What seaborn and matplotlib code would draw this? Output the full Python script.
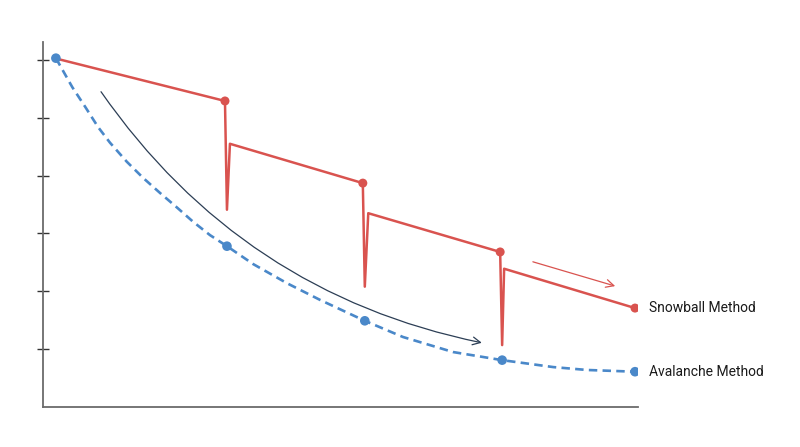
import matplotlib
matplotlib.use("Agg")
import numpy as np
import pandas as pd
import seaborn as sns
import matplotlib.pyplot as plt

# snowball: balance path incl. the payoff drops (x ~ months, y ~ balance units)
snow_x = [0.28, 3.67, 3.71, 3.77, 6.45, 6.49, 6.56, 9.22, 9.26, 9.30, 11.94]
snow_y = [6.02, 5.29, 3.41, 4.55, 3.87, 2.08, 3.35, 2.68, 1.07, 2.39, 1.71]
snow_mark_x = [3.67, 6.45, 9.22, 11.94]
snow_mark_y = [5.29, 3.87, 2.68, 1.71]

# avalanche: smooth dashed curve
aval_x = [0.26, 0.59, 0.85, 1.11, 1.35, 1.69, 2.02, 2.36, 2.70, 3.03, 3.37,
          3.71, 4.24, 4.92, 5.59, 6.49, 7.26, 8.27, 9.26, 10.29, 10.97, 11.94]
aval_y = [6.03, 5.53, 5.19, 4.84, 4.57, 4.24, 3.96, 3.70, 3.45, 3.20, 2.97,
          2.78, 2.47, 2.14, 1.85, 1.49, 1.21, 0.95, 0.81, 0.69, 0.64, 0.61]
aval_mark_x = [0.26, 3.71, 6.49, 9.26, 11.94]
aval_mark_y = [6.03, 2.78, 1.49, 0.81, 0.61]

# annotation arrows (start, end)
curve_arrow = [(1.17, 5.45), (8.85, 1.11)]
snow_arrow = [(9.88, 2.51), (11.54, 2.09)]

labels = ["Snowball Method", "Avalanche Method"]
label_y = [1.71, 0.60]

RED = "#d9534f"
BLUE = "#4a88c9"
NAVY = "#2c3e55"

sns.set_theme(style="white")
plt.rcParams["font.family"] = ["Roboto", "DejaVu Sans"]

fig = plt.figure(figsize=(8, 4.47), dpi=100)
ax = fig.add_axes([0.05375, 0.0895, 0.74375, 0.8166])

snow = pd.DataFrame({"x": snow_x, "y": snow_y})
aval = pd.DataFrame({"x": aval_x, "y": aval_y})

sns.lineplot(data=aval, x="x", y="y", ax=ax, color=BLUE, lw=1.9,
             sort=False, estimator=None)
ax.lines[-1].set_dashes((3.2, 2.0))
sns.lineplot(data=snow, x="x", y="y", ax=ax, color=RED, lw=1.8,
             sort=False, estimator=None)

sns.scatterplot(x=snow_mark_x, y=snow_mark_y, ax=ax, color=RED, s=42,
                edgecolor="none", zorder=4)
sns.scatterplot(x=aval_mark_x, y=aval_mark_y, ax=ax, color=BLUE, s=48,
                edgecolor="none", zorder=5)

ax.annotate("", xy=curve_arrow[1], xytext=curve_arrow[0],
            arrowprops=dict(arrowstyle="->", color=NAVY, lw=0.9,
                            connectionstyle="arc3,rad=0.2",
                            mutation_scale=14, shrinkA=0, shrinkB=0))
ax.annotate("", xy=snow_arrow[1], xytext=snow_arrow[0],
            arrowprops=dict(arrowstyle="->", color=RED, lw=0.9,
                            mutation_scale=14, shrinkA=0, shrinkB=0))

for txt, yy in zip(labels, label_y):
    ax.text(12.22, yy, txt, ha="left", va="center", fontsize=10,
            color="#1a1a1a", clip_on=False)

ax.set_xlim(0, 12)
ax.set_ylim(0, 6.31)
ax.set_xticks([])
ax.set_yticks([1, 2, 3, 4, 5, 6])
ax.set_yticklabels([])
ax.tick_params(axis="y", direction="inout", length=9, width=1.0,
               color="#333333", left=True)
ax.set_xlabel("")
ax.set_ylabel("")
for side in ["top", "right"]:
    ax.spines[side].set_visible(False)
for side in ["left", "bottom"]:
    ax.spines[side].set_color("#6b6b6b")
    ax.spines[side].set_linewidth(1.3)

fig.savefig("out.png", dpi=100)
